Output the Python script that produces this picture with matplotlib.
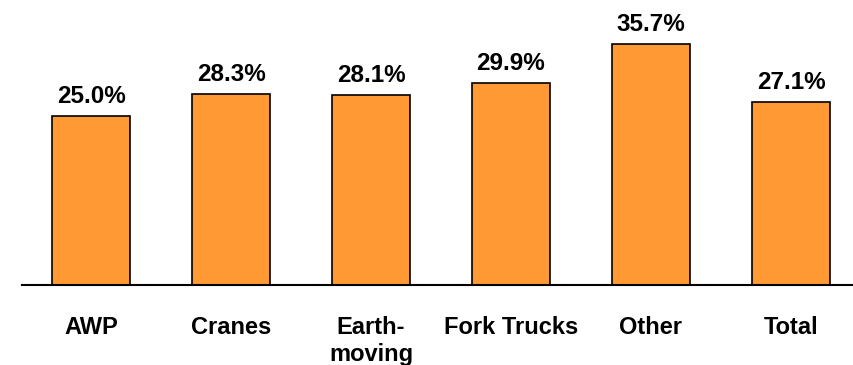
import matplotlib
matplotlib.use("Agg")
import matplotlib.pyplot as plt

categories = ["AWP", "Cranes", "Earth-\nmoving", "Fork Trucks", "Other", "Total"]
values = [25.0, 28.3, 28.1, 29.9, 35.7, 27.1]

plt.rcParams['font.family'] = ['Liberation Sans', 'DejaVu Sans']

fig = plt.figure(figsize=(8.54, 3.65), dpi=100)
# axes box in pixels: left 22, right 852, baseline at y=285, top at y=15
ax = fig.add_axes([22 / 854, 80 / 365, 830 / 854, 270 / 365])

x = list(range(len(categories)))
ax.bar(x, values, width=0.557, color="#FF9933", edgecolor="black", linewidth=1.2, zorder=2)

for xi, v in zip(x, values):
    ax.text(xi, v + 1.2, f"{v:.1f}%", ha="center", va="bottom",
            fontsize=17.5, fontweight="bold")

ax.set_xlim(-0.493, 5.436)
ax.set_ylim(0, 40)

for s in ["top", "right", "left"]:
    ax.spines[s].set_visible(False)
ax.spines["bottom"].set_linewidth(1.5)
ax.spines["bottom"].set_zorder(3)

ax.set_yticks([])
ax.set_xticks(x)
ax.set_xticklabels(categories, fontsize=17, fontweight="bold", va="top", linespacing=1.25)
ax.tick_params(axis="x", length=0, pad=22)

fig.savefig("out.png", dpi=100)
